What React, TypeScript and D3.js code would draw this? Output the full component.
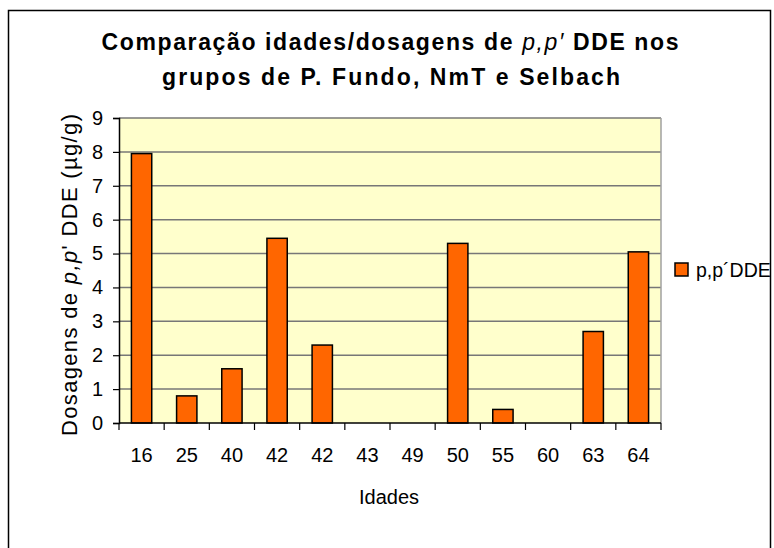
import React, { useEffect, useRef } from 'react';
import * as d3 from 'd3';

const ages = ['16', '25', '40', '42', '42', '43', '49', '50', '55', '60', '63', '64'];
const ddeValues = [7.95, 0.8, 1.6, 5.45, 2.3, 0, 0, 5.3, 0.4, 0, 2.7, 5.05];
const yTicks = [0, 1, 2, 3, 4, 5, 6, 7, 8, 9];
const seriesName = 'p,p\u00B4DDE';

const draw = (node: SVGSVGElement) => {
  const svg = d3.select(node);
  svg.selectAll('*').remove();

  const left = 119, right = 661, top = 118, bottom = 423;
  const font = 'Arial, "Liberation Sans", sans-serif';

  // outer frame
  svg.append('rect')
    .attr('x', 8.5).attr('y', 10.5)
    .attr('width', 762).attr('height', 560)
    .attr('fill', 'white').attr('stroke', 'black').attr('stroke-width', 1.5);

  const x = d3.scaleBand<number>()
    .domain(ages.map((_, i) => i))
    .range([left, right])
    .paddingInner(0.55)
    .paddingOuter(0.275);

  const y = d3.scaleLinear().domain([0, 9]).range([bottom, top]);

  // plot area
  svg.append('rect')
    .attr('x', left).attr('y', top)
    .attr('width', right - left).attr('height', bottom - top)
    .attr('fill', '#FFFFCC');

  // gridlines
  svg.append('g')
    .selectAll('line')
    .data(yTicks.filter(d => d > 0))
    .enter().append('line')
    .attr('x1', left).attr('x2', right)
    .attr('y1', d => y(d)).attr('y2', d => y(d))
    .attr('stroke', '#777777').attr('stroke-width', 1.5);

  svg.append('line')
    .attr('x1', right).attr('x2', right)
    .attr('y1', top).attr('y2', bottom)
    .attr('stroke', '#A0A0A0').attr('stroke-width', 1.5);

  // bars
  svg.append('g')
    .selectAll('rect')
    .data(ddeValues)
    .enter().append('rect')
    .attr('x', (_, i) => x(i) as number)
    .attr('y', d => y(d))
    .attr('width', x.bandwidth())
    .attr('height', d => y(0) - y(d))
    .attr('fill', '#FF6600')
    .attr('stroke', 'black')
    .attr('stroke-width', 1.5);

  // Y axis
  const yAxis = svg.append('g')
    .attr('transform', `translate(${left},0)`)
    .call(d3.axisLeft(y).tickValues(yTicks).tickSize(6).tickPadding(10));
  yAxis.select('.domain').attr('stroke', 'black').attr('stroke-width', 1.5);
  yAxis.selectAll('.tick line').attr('stroke', 'black').attr('stroke-width', 1.2);
  yAxis.selectAll('.tick text')
    .attr('font-family', font).attr('font-size', 20).attr('fill', 'black');

  // X axis
  const step = x.step();
  const xAxis = svg.append('g')
    .attr('transform', `translate(0,${bottom})`);
  xAxis.append('line')
    .attr('x1', left).attr('x2', right)
    .attr('stroke', 'black').attr('stroke-width', 1.5);
  xAxis.selectAll('.xt')
    .data(d3.range(ages.length + 1))
    .enter().append('line')
    .attr('class', 'xt')
    .attr('x1', i => left + i * step).attr('x2', i => left + i * step)
    .attr('y1', 0).attr('y2', 7)
    .attr('stroke', 'black').attr('stroke-width', 1.2);
  xAxis.selectAll('text')
    .data(ages)
    .enter().append('text')
    .attr('x', (_, i) => (x(i) as number) + x.bandwidth() / 2)
    .attr('y', 39)
    .attr('text-anchor', 'middle')
    .attr('font-family', font).attr('font-size', 20)
    .text(d => d);

  // axis titles
  svg.append('text')
    .attr('x', 389).attr('y', 504)
    .attr('text-anchor', 'middle')
    .attr('font-family', font).attr('font-size', 20)
    .text('Idades');

  const yt = svg.append('text')
    .attr('transform', 'translate(77,275) rotate(-90)')
    .attr('text-anchor', 'middle')
    .attr('font-family', font).attr('font-size', 22)
    .attr('textLength', 322).attr('lengthAdjust', 'spacing');
  yt.append('tspan').text('Dosagens de ');
  yt.append('tspan').attr('font-style', 'italic').text('p,p');
  yt.append('tspan').text("' DDE (\u00B5g/g)");

  // title
  const t1 = svg.append('text')
    .attr('x', 390).attr('y', 50)
    .attr('text-anchor', 'middle')
    .attr('font-family', font).attr('font-size', 23).attr('font-weight', 'bold')
    .attr('textLength', 577).attr('lengthAdjust', 'spacing');
  t1.append('tspan').text('Compara\u00E7\u00E3o idades/dosagens de ');
  t1.append('tspan').attr('font-style', 'italic').attr('font-weight', 'normal').text('p,p\u2032');
  t1.append('tspan').text(' DDE nos');
  svg.append('text')
    .attr('x', 391).attr('y', 85)
    .attr('text-anchor', 'middle')
    .attr('font-family', font).attr('font-size', 23).attr('font-weight', 'bold')
    .attr('textLength', 458).attr('lengthAdjust', 'spacing')
    .text('grupos de P. Fundo, NmT e Selbach');

  // legend
  const lg = svg.append('g').attr('transform', 'translate(675,263)');
  lg.append('rect')
    .attr('width', 13).attr('height', 13)
    .attr('fill', '#FF6600').attr('stroke', 'black').attr('stroke-width', 1.5);
  lg.append('text')
    .attr('x', 21).attr('y', 14)
    .attr('font-family', font).attr('font-size', 19.5)
    .text(seriesName);
};

const App = () => {
  const ref = useRef<SVGSVGElement>(null);

  useEffect(() => {
    if (ref.current) draw(ref.current);
  }, []);

  return (
    <svg ref={ref} width={774} height={548}
      style={{ position: 'absolute', left: 0, top: 0 }} />
  );
};

export default App;
